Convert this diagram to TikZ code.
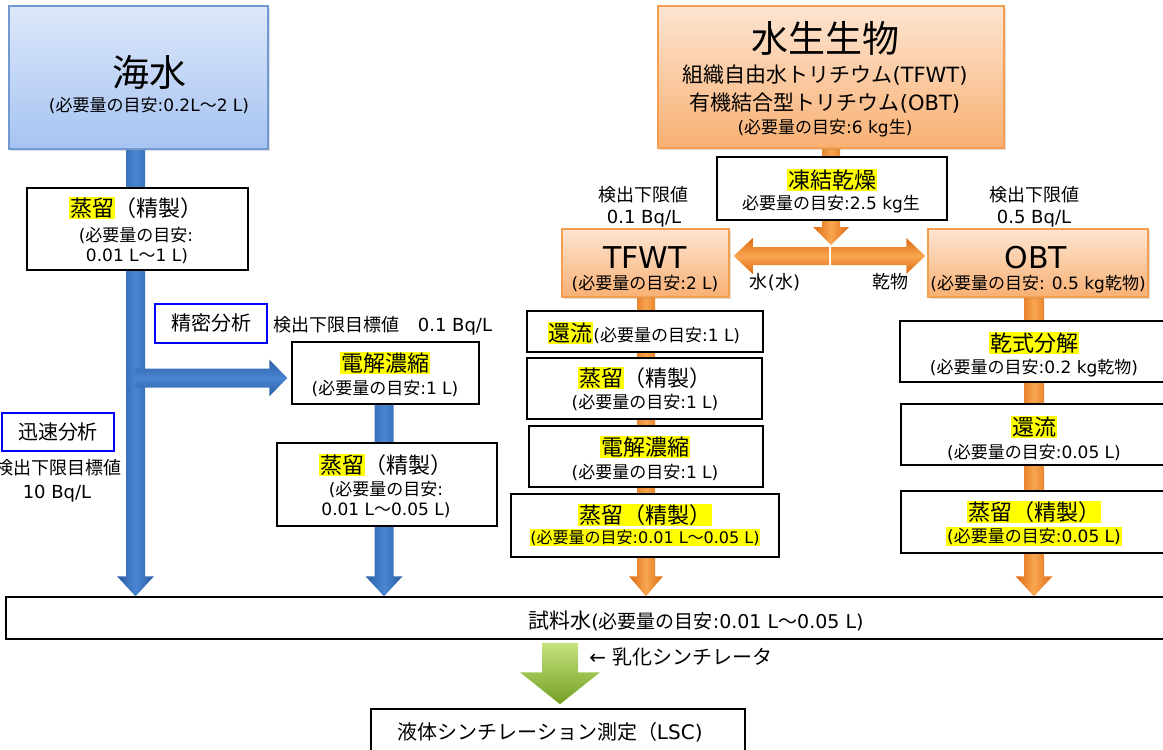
\documentclass[tikz,border=0pt]{standalone}
\usepackage{fontspec}
\setmainfont{DejaVu Sans}
\newfontfamily\cjkfont{Noto Sans CJK JP}
\newfontfamily\latfont{DejaVu Sans}
\usetikzlibrary{calc,backgrounds,shadows}
\XeTeXinterchartokenstate=1
\newXeTeXintercharclass\CJKclass
\makeatletter
\count@="3000
\loop\XeTeXcharclass\count@=\CJKclass\ifnum\count@<"9FFF\advance\count@\@ne\repeat
\count@="FF00
\loop\XeTeXcharclass\count@=\CJKclass\ifnum\count@<"FFEF\advance\count@\@ne\repeat
\makeatother
\XeTeXinterchartoks 0 \CJKclass = {\cjkfont}
\XeTeXinterchartoks 4095 \CJKclass = {\cjkfont}
\XeTeXinterchartoks \CJKclass 0 = {\latfont}
\XeTeXinterchartoks \CJKclass 4095 = {\latfont}

\definecolor{seaTop}{HTML}{DDE8FA}
\definecolor{seaBot}{HTML}{A6C3F2}
\definecolor{seaLine}{HTML}{7399D3}
\definecolor{bioTop}{HTML}{FDE5D2}
\definecolor{bioBot}{HTML}{F9B073}
\definecolor{bioLine}{HTML}{F59E50}
\definecolor{bluA}{HTML}{2A5CA2}
\definecolor{bluB}{HTML}{4A86D2}
\definecolor{oraA}{HTML}{DD6A12}
\definecolor{oraB}{HTML}{F8A550}
\definecolor{grnA}{HTML}{74A024}
\definecolor{grnB}{HTML}{C6E27E}
\definecolor{hly}{HTML}{FFFF00}
\definecolor{frameblue}{HTML}{0000FF}

\newcommand\hl[1]{\begingroup\setlength{\fboxsep}{0.8pt}\colorbox{hly}{#1}\endgroup}

% vertical arrow: start, end(tip), shaft half, head half, head length, style
\newcommand\DownArr[6]{%
  \path[#6] let \p1=(#1), \p2=(#2), \p3=($(#2)!#5pt!(#1)$) in
    (\x1-#3pt,\y1) -- (\x1+#3pt,\y1) -- (\x1+#3pt,\y3) -- (\x1+#4pt,\y3) -- (\x1,\y2)
    -- (\x1-#4pt,\y3) -- (\x1-#3pt,\y3) -- cycle;}
% horizontal arrow
\newcommand\HorArr[6]{%
  \path[#6] let \p1=(#1), \p2=(#2), \p3=($(#2)!#5pt!(#1)$) in
    (\x1,\y1-#3pt) -- (\x3,\y1-#3pt) -- (\x3,\y1-#4pt) -- (\x2,\y1) -- (\x3,\y1+#4pt)
    -- (\x3,\y1+#3pt) -- (\x1,\y1+#3pt) -- cycle;}

\tikzset{
  sbox/.style={draw=black, line width=1.5pt, fill=white, inner sep=0pt},
  seabox/.style={draw=seaLine, line width=1.5pt, top color=seaTop, bottom color=seaBot, inner sep=0pt,
     drop shadow={shadow xshift=2pt, shadow yshift=-2pt, opacity=0.25}},
  biobox/.style={draw=bioLine, line width=1.5pt, top color=bioTop, bottom color=bioBot, inner sep=0pt,
     drop shadow={shadow xshift=2pt, shadow yshift=-2pt, opacity=0.25}},
  mbox/.style={draw=frameblue, line width=2.5pt, fill=white, inner sep=0pt},
  txt/.style={inner sep=0pt, anchor=center},
  f36/.style={font=\fontsize{37}{41}\selectfont, text height=32.6pt, text depth=4.4pt},
  f30/.style={font=\fontsize{30}{34}\selectfont, text height=26.4pt, text depth=3.6pt},
  f22/.style={font=\fontsize{22}{26}\selectfont, text height=19.4pt, text depth=2.6pt},
  f21/.style={font=\fontsize{21}{25}\selectfont, text height=18.5pt, text depth=2.5pt},
  f20/.style={font=\fontsize{20}{24}\selectfont, text height=17.6pt, text depth=2.4pt},
  f18/.style={font=\fontsize{18}{22}\selectfont, text height=15.8pt, text depth=2.2pt},
  f17/.style={font=\fontsize{17}{20}\selectfont, text height=15pt, text depth=2pt},
  f16/.style={font=\fontsize{16}{19}\selectfont, text height=14.1pt, text depth=1.9pt},
  blueV/.style={left color=bluA, right color=bluA, middle color=bluB},
  blueH/.style={top color=bluA, bottom color=bluA, middle color=bluB},
  oraV/.style={left color=oraA, right color=oraA, middle color=oraB},
  oraH/.style={top color=oraA, bottom color=oraA, middle color=oraB},
  grnV/.style={top color=grnB, bottom color=grnA},
}

\begin{document}
\begin{tikzpicture}[x=1pt,y=-1pt]
\useasboundingbox (0,0) rectangle (1163,750);

% ---------- boxes ----------
\node[seabox, minimum width=259pt, minimum height=143pt] (sea) at (138.5,77.5) {};
\node[sbox, minimum width=221pt, minimum height=82pt] (d1) at (137.5,229) {};
\node[mbox, minimum width=112pt, minimum height=39pt] (mitsu) at (211,323.5) {};
\node[sbox, minimum width=187pt, minimum height=62pt] (e1) at (385.5,373) {};
\node[sbox, minimum width=220pt, minimum height=83pt] (d2) at (387,484.5) {};
\node[mbox, minimum width=112pt, minimum height=38pt] (jin) at (58,432) {};

\node[biobox, minimum width=346pt, minimum height=142pt] (bio) at (831,77) {};
\node[sbox, minimum width=230pt, minimum height=63pt] (fd) at (832,188.5) {};
\node[biobox, minimum width=167pt, minimum height=68pt] (tfwt) at (645.5,263) {};
\node[biobox, minimum width=220pt, minimum height=68pt] (obt) at (1038,263) {};

\node[sbox, minimum width=236pt, minimum height=41pt] (r1) at (645,331.5) {};
\node[sbox, minimum width=235pt, minimum height=61pt] (d3) at (644.5,388.5) {};
\node[sbox, minimum width=234pt, minimum height=61pt] (e2) at (646,456.5) {};
\node[sbox, minimum width=268pt, minimum height=63pt] (d4) at (645,525.5) {};

\node[sbox, minimum width=268pt, minimum height=61pt] (dry) at (1034,351.5) {};
\node[sbox, minimum width=267pt, minimum height=61pt] (r2) at (1034.5,434.5) {};
\node[sbox, minimum width=267pt, minimum height=62pt] (d5) at (1034.5,522) {};

\node[sbox, minimum width=1166pt, minimum height=42pt] (bar) at (589,618) {};
\node[sbox, minimum width=374pt, minimum height=53pt] (lsc) at (558,735.5) {};

% ---------- texts ----------
\node[txt,f36] (seaT) at (149,72) {海水};
\node[txt,f17] (seaS) at (149,105) {(必要量の目安:0.2L～2 L)};

\node[txt,f22] (d1a) at (136,208) {\hl{蒸留}（精製）};
\node[txt,f17] (d1b) at (136,235) {(必要量の目安:};
\node[txt,f17] (d1c) at (137,255) {0.01 L～1 L)};

\node[txt,f20] (mitsuT) at (211,323) {精密分析};
\node[txt,f18] (det1) at (383,325) {検出下限目標値\hspace{1em}0.1 Bq/L};

\node[txt,f22] (e1a) at (385,363) {\hl{電解濃縮}};
\node[txt,f17] (e1b) at (385,388) {(必要量の目安:1 L)};

\node[txt,f22] (d2a) at (386,465) {\hl{蒸留}（精製）};
\node[txt,f17] (d2b) at (386,489) {(必要量の目安:};
\node[txt,f17] (d2c) at (386,509) {0.01 L～0.05 L)};

\node[txt,f20] (jinT) at (58,432) {迅速分析};
\node[txt,f18] (det2a) at (58,468) {検出下限目標値};
\node[txt,f18] (det2b) at (57,492) {10 Bq/L};

\node[txt,f36] (bioT) at (825,38) {水生生物};
\node[txt,f21] (bioA) at (825,74) {組織自由水トリチウム(TFWT)};
\node[txt,f21] (bioB) at (825,102) {有機結合型トリチウム(OBT)};
\node[txt,f17] (bioC) at (825,127) {(必要量の目安:6 kg生)};

\node[txt,f22] (fda) at (832,180) {\hl{凍結乾燥}};
\node[txt,f17] (fdb) at (831,203) {必要量の目安:2.5 kg生};

\node[txt,f18] (det3a) at (643,195) {検出下限値};
\node[txt,f18] (det3b) at (644,217) {0.1 Bq/L};
\node[txt,f18] (det4a) at (1034,195) {検出下限値};
\node[txt,f18] (det4b) at (1034,217) {0.5 Bq/L};

\node[txt,f30] (tfwtT) at (645,257) {TFWT};
\node[txt,f17] (tfwtS) at (645,283) {(必要量の目安:2 L)};
\node[txt,f30] (obtT) at (1036,257) {OBT};
\node[txt,f17] (obtS) at (1038,283) {(必要量の目安: 0.5 kg乾物)};

\node[txt,f18] (waterL) at (775,282) {水(水)};
\node[txt,f18] (dryL) at (890,282) {乾物};

\node[txt,f22] (r1a) at (644,333) {\hl{還流}{\fontsize{17}{20}\selectfont(必要量の目安:1 L)}};
\node[txt,f22] (d3a) at (645,378) {\hl{蒸留}（精製）};
\node[txt,f17] (d3b) at (645,402) {(必要量の目安:1 L)};
\node[txt,f22] (e2a) at (645,447) {\hl{電解濃縮}};
\node[txt,f17] (e2b) at (645,472) {(必要量の目安:1 L)};
\node[txt,f22] (d4a) at (645,515) {\hl{蒸留（精製）}};
\node[txt,f16] (d4b) at (645,537) {\hl{(必要量の目安:0.01 L～0.05 L)}};

\node[txt,f22] (drya) at (1034,343) {\hl{乾式分解}};
\node[txt,f17] (dryb) at (1034,367) {(必要量の目安:0.2 kg乾物)};
\node[txt,f22] (r2a) at (1034,427) {\hl{還流}};
\node[txt,f17] (r2b) at (1034,452) {(必要量の目安:0.05 L)};
\node[txt,f22] (d5a) at (1034,512) {\hl{蒸留（精製）}};
\node[txt,f17] (d5b) at (1034,536) {\hl{(必要量の目安:0.05 L)}};

\node[txt,f21] (barT) at (696,620) {試料水{\fontsize{19}{22}\selectfont(必要量の目安:0.01 L～0.05 L)}};
\node[txt,f20] (emul) at (681,657) {← 乳化シンチレータ};
\node[txt,f20] (lscT) at (550,732) {液体シンチレーション測定（LSC)};

% ---------- arrows ----------
\begin{pgfonlayer}{background}
  \coordinate (xb1) at (135.5,0);
  \coordinate (xb2) at (384,0);
  \coordinate (xo1) at (831,0);
  \coordinate (xo2) at (646,0);
  \coordinate (xo3) at (1034,0);
  \coordinate (xg) at (560,0);

  \coordinate (b1s) at (xb1 |- sea.south);
  \coordinate (b1e) at (xb1 |- bar.north);
  \DownArr{b1s}{b1e}{9.5}{18.5}{20}{blueV}

  \coordinate (h1e) at ($(e1.west)+(-4,5)$);
  \coordinate (h1s) at (xb1 |- h1e);
  \HorArr{h1s}{h1e}{9.5}{18.5}{18}{blueH}

  \coordinate (b2s) at (xb2 |- e1.south);
  \coordinate (b2e) at (xb2 |- bar.north);
  \DownArr{b2s}{b2e}{9.5}{18.5}{20}{blueV}

  \coordinate (o1s) at (xo1 |- bio.south);
  \coordinate (fdtip) at (831,245);
  \DownArr{o1s}{fdtip}{9}{18}{18}{oraV}

  \coordinate (lae) at ($(tfwt.east)+(4,-7)$);
  \coordinate (las) at (829,256);
  \HorArr{las}{lae}{9}{18}{19}{oraH}
  \coordinate (rae) at ($(obt.west)+(-2,-7)$);
  \coordinate (ras) at (831,256);
  \HorArr{ras}{rae}{9}{18}{19}{oraH}

  \coordinate (o2s) at (xo2 |- tfwt.south);
  \coordinate (o2e) at (xo2 |- bar.north);
  \DownArr{o2s}{o2e}{9}{17}{20}{oraV}

  \coordinate (o3s) at (xo3 |- obt.south);
  \coordinate (o3e) at (xo3 |- bar.north);
  \DownArr{o3s}{o3e}{10}{18.5}{20}{oraV}

  \coordinate (gs) at ($(xg |- bar.south)+(0,3)$);
  \coordinate (ge) at ($(xg |- lsc.north)+(0,-4)$);
  \DownArr{gs}{ge}{18}{40}{32}{grnV}
\end{pgfonlayer}
\end{tikzpicture}
\end{document}
